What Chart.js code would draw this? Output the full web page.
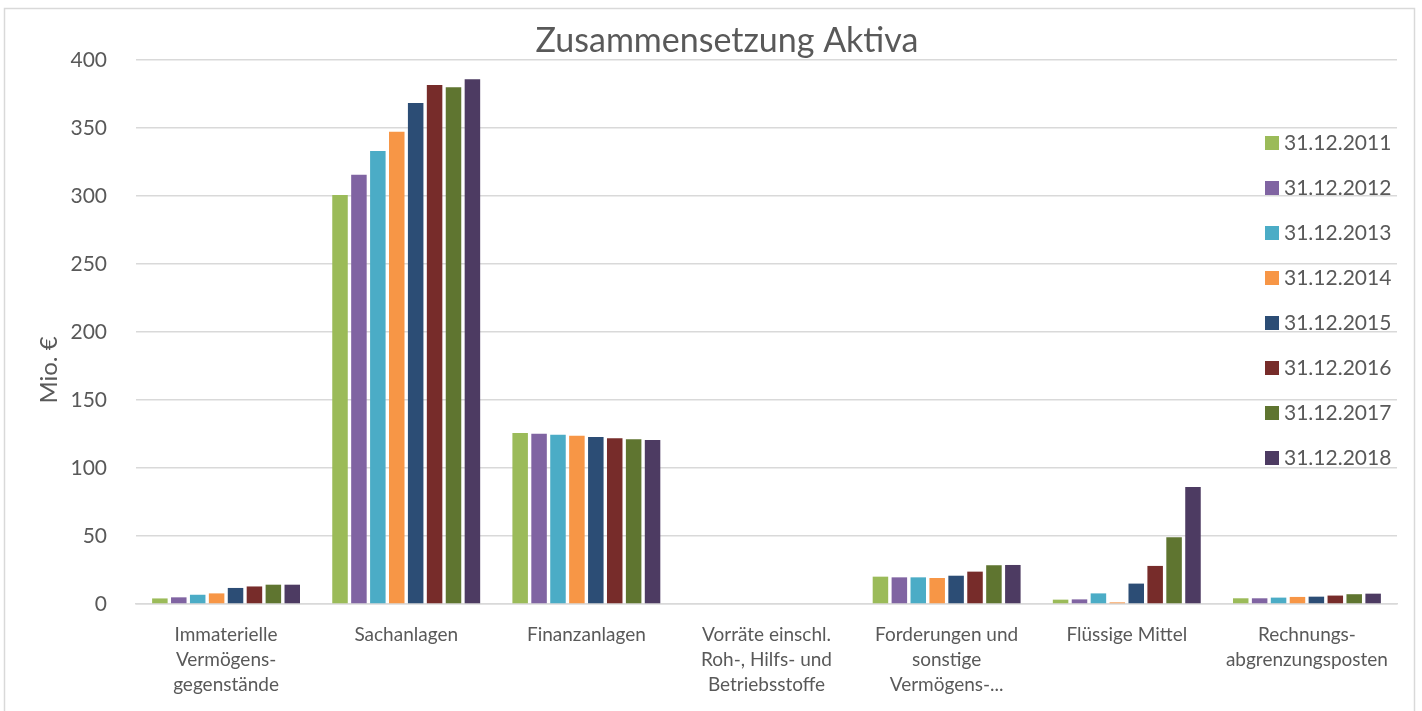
<!DOCTYPE html>
<html>
<head>
<meta charset="utf-8">
<script src="https://cdn.jsdelivr.net/npm/chart.js@4"></script>
<style>
  html, body { margin: 0; padding: 0; background: #fff; }
  #wrap { width: 1422px; height: 711px; position: relative; }
</style>
</head>
<body>
<div id="wrap"><canvas id="c" width="1422" height="711"></canvas></div>
<script>
const TXT = "#595959";
const GRID = "#d9d9d9";
const FONT = "Lato, 'Open Sans', sans-serif";

const categories = [
  ["Immaterielle", "Vermögens-", "gegenstände"],
  "Sachanlagen",
  "Finanzanlagen",
  ["Vorräte einschl.", "Roh-, Hilfs- und", "Betriebsstoffe"],
  ["Forderungen und", "sonstige", "Vermögens-..."],
  "Flüssige Mittel",
  ["Rechnungs-", "abgrenzungsposten"],
];
const years = ["31.12.2011", "31.12.2012", "31.12.2013", "31.12.2014", "31.12.2015", "31.12.2016", "31.12.2017", "31.12.2018"];
const colors = ["#9bbb59", "#8064a2", "#4bacc6", "#f79646", "#2c4d75", "#772c2a", "#5f7530", "#4d3b62"];

const v2011 = [4.1, 300.7, 125.7, 0, 20.1, 3.2, 4.2];
const v2012 = [4.9, 315.7, 125.2, 0, 19.6, 3.4, 4.2];
const v2013 = [6.8, 333.0, 124.5, 0, 19.6, 7.8, 4.7];
const v2014 = [7.8, 347.3, 123.8, 0, 19.1, 1.2, 5.2];
const v2015 = [11.8, 368.4, 122.8, 0, 20.8, 15.0, 5.4];
const v2016 = [12.9, 381.6, 121.8, 0, 23.8, 28.0, 6.2];
const v2017 = [14.2, 380.0, 121.1, 0, 28.5, 49.1, 7.2];
const v2018 = [14.2, 385.8, 120.6, 0, 28.7, 86.0, 7.6];
const series = [v2011, v2012, v2013, v2014, v2015, v2016, v2017, v2018];

// frame, title, y-axis title and the legend that sits over the plot
const decor = {
  id: "decor",
  beforeDraw(chart) {
    const ctx = chart.ctx;
    ctx.save();
    ctx.strokeStyle = GRID;
    ctx.lineWidth = 1.5;
    ctx.strokeRect(4.5, 8.5, 1410, 720);
    ctx.restore();
  },
  afterDraw(chart) {
    const ctx = chart.ctx;
    ctx.save();
    ctx.fillStyle = TXT;
    ctx.textAlign = "center";
    ctx.textBaseline = "middle";
    ctx.font = `34px ${FONT}`;
    ctx.fillText("Zusammensetzung Aktiva", 727, 41);

    ctx.translate(49, 370);
    ctx.rotate(-Math.PI / 2);
    ctx.font = `24px ${FONT}`;
    ctx.fillText("Mio. €", 0, 0);
    ctx.setTransform(1, 0, 0, 1, 0, 0);

    ctx.textAlign = "left";
    ctx.font = `21px ${FONT}`;
    years.forEach((y, i) => {
      const cy = 143 + i * 45;
      ctx.fillStyle = colors[i];
      ctx.fillRect(1265, cy - 7, 14, 14);
      ctx.fillStyle = TXT;
      ctx.fillText(y, 1284, cy);
    });
    ctx.restore();
  },
};

new Chart(document.getElementById("c"), {
  type: "bar",
  data: {
    labels: categories,
    datasets: years.map((y, i) => ({
      label: y,
      data: series[i],
      backgroundColor: colors[i],
      borderWidth: 0,
      categoryPercentage: 0.84,
      barPercentage: 0.82,
    })),
  },
  options: {
    responsive: false,
    animation: false,
    layout: { padding: { top: 60, right: 25, left: 0, bottom: 0 } },
    plugins: { legend: { display: false }, title: { display: false }, tooltip: { enabled: false } },
    scales: {
      x: {
        grid: { display: false, drawTicks: false },
        border: { color: GRID, width: 1.5 },
        ticks: { color: TXT, font: { family: FONT, size: 19, lineHeight: 1.32 }, padding: 18, maxRotation: 0, autoSkip: false },
        afterFit: (s) => { s.height = 107; },
      },
      y: {
        min: 0,
        max: 400,
        grid: { color: GRID, lineWidth: 1.5, drawTicks: false },
        border: { display: false },
        ticks: { stepSize: 50, color: TXT, font: { family: FONT, size: 21 }, padding: 29 },
        afterFit: (s) => { s.width = 136; },
      },
    },
  },
  plugins: [decor],
});
</script>
</body>
</html>
